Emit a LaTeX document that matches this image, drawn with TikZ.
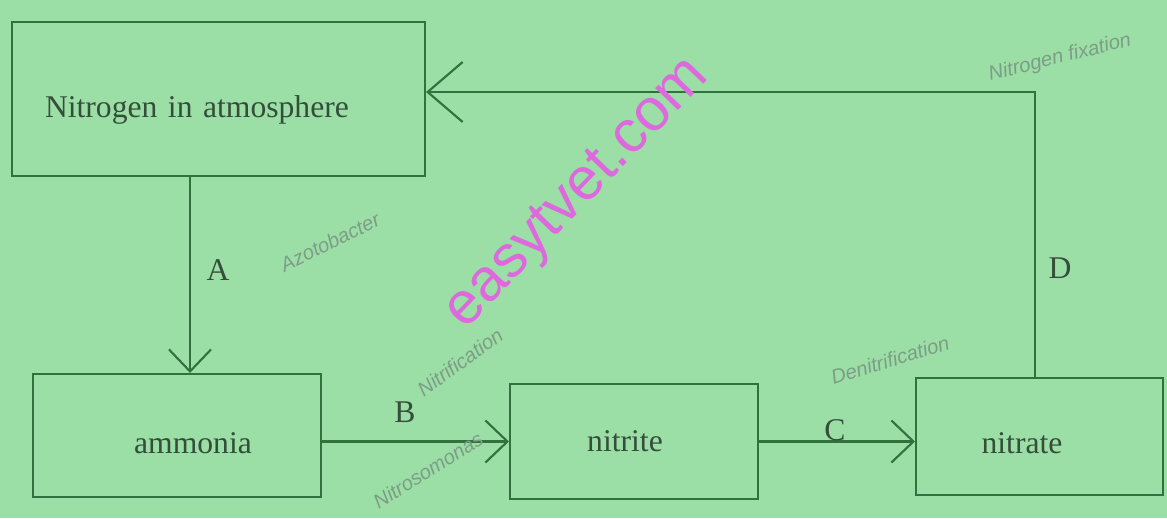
\documentclass[tikz,border=0pt]{standalone}
\usepackage{fontspec}
\setmainfont{Liberation Serif}
\newfontfamily\hand{Liberation Sans}
\usetikzlibrary{arrows.meta}
\definecolor{bg}{RGB}{155,222,166}
\definecolor{ln}{RGB}{50,112,62}
\definecolor{tx}{RGB}{52,78,58}
\definecolor{pencil}{RGB}{125,158,134}
\definecolor{wm}{RGB}{222,105,222}
\begin{document}
\begin{tikzpicture}[x=0.02cm,y=-0.02cm,
 box/.style={draw=ln, line width=1.2pt, text=tx, font=\fontsize{18}{21}\selectfont, inner sep=0pt},
 arr/.style={draw=ln, line width=1.2pt, -{Straight Barb[length=0.44cm,width=0.84cm,line width=1.2pt]}},
 arrD/.style={draw=ln, line width=1.2pt, -{Straight Barb[length=0.7cm,width=1.2cm,line width=1.2pt]}},
 lbl/.style={text=tx, font=\fontsize{18}{21}\selectfont},
 note/.style={text=pencil, font=\hand\itshape\fontsize{11.5}{13}\selectfont},
]
\fill[bg] (0,0) rectangle (1167,518);
\useasboundingbox (0,0) rectangle (1167,518);

\node[box, minimum width=8.26cm, minimum height=3.08cm, text width=6.94cm, inner xsep=0.66cm, align=left] (N) at (218.5,99)
  {\raisebox{-0.22cm}[\height][\depth]{Nitrogen in atmosphere}};
\node[box, minimum width=5.76cm, minimum height=2.46cm] (amm) at (177,435.5)
  {\hspace*{0.64cm}\raisebox{-0.15cm}[\height][\depth]{ammonia}};
\node[box, minimum width=4.96cm, minimum height=2.30cm] (nit) at (634,441.5)
  {nitrite\hspace*{0.36cm}};
\node[box, minimum width=4.94cm, minimum height=2.34cm] (nat) at (1039.5,436.5)
  {\raisebox{-0.13cm}[\height][\depth]{nitrate}\hspace*{0.7cm}};

\draw[arr] ([xshift=-0.57cm]N.south) -- ([xshift=-0.57cm]N.south |- amm.north);
\draw[arr] (amm.east |- nit.west) -- (nit.west);
\draw[arr] (nit.east) -- (nat.west |- nit.east);
\draw[arrD] ([xshift=-0.09cm]nat.north) |- ([yshift=0.14cm]N.east);

\node[lbl] (lA) at (218,270) {A};
\node[lbl] (lB) at (405,412) {B};
\node[lbl] (lC) at (835,430) {C};
\node[lbl] (lD) at (1060,268) {D};

\node[note, rotate=26] (n1) at (330,242) {Azotobacter};
\node[note, rotate=36] (n2) at (460,362) {Nitrification};
\node[note, rotate=32] (n3) at (428,470) {Nitrosomonas};
\node[note, rotate=17] (n4) at (890,360) {Denitrification};
\node[note, rotate=14] (n5) at (1060,58) {Nitrogen fixation};

\node[text=wm, font=\hand\fontsize{34}{36}\selectfont, rotate=46] (wm) at (578,195) {easytvet.com};
\end{tikzpicture}
\end{document}
